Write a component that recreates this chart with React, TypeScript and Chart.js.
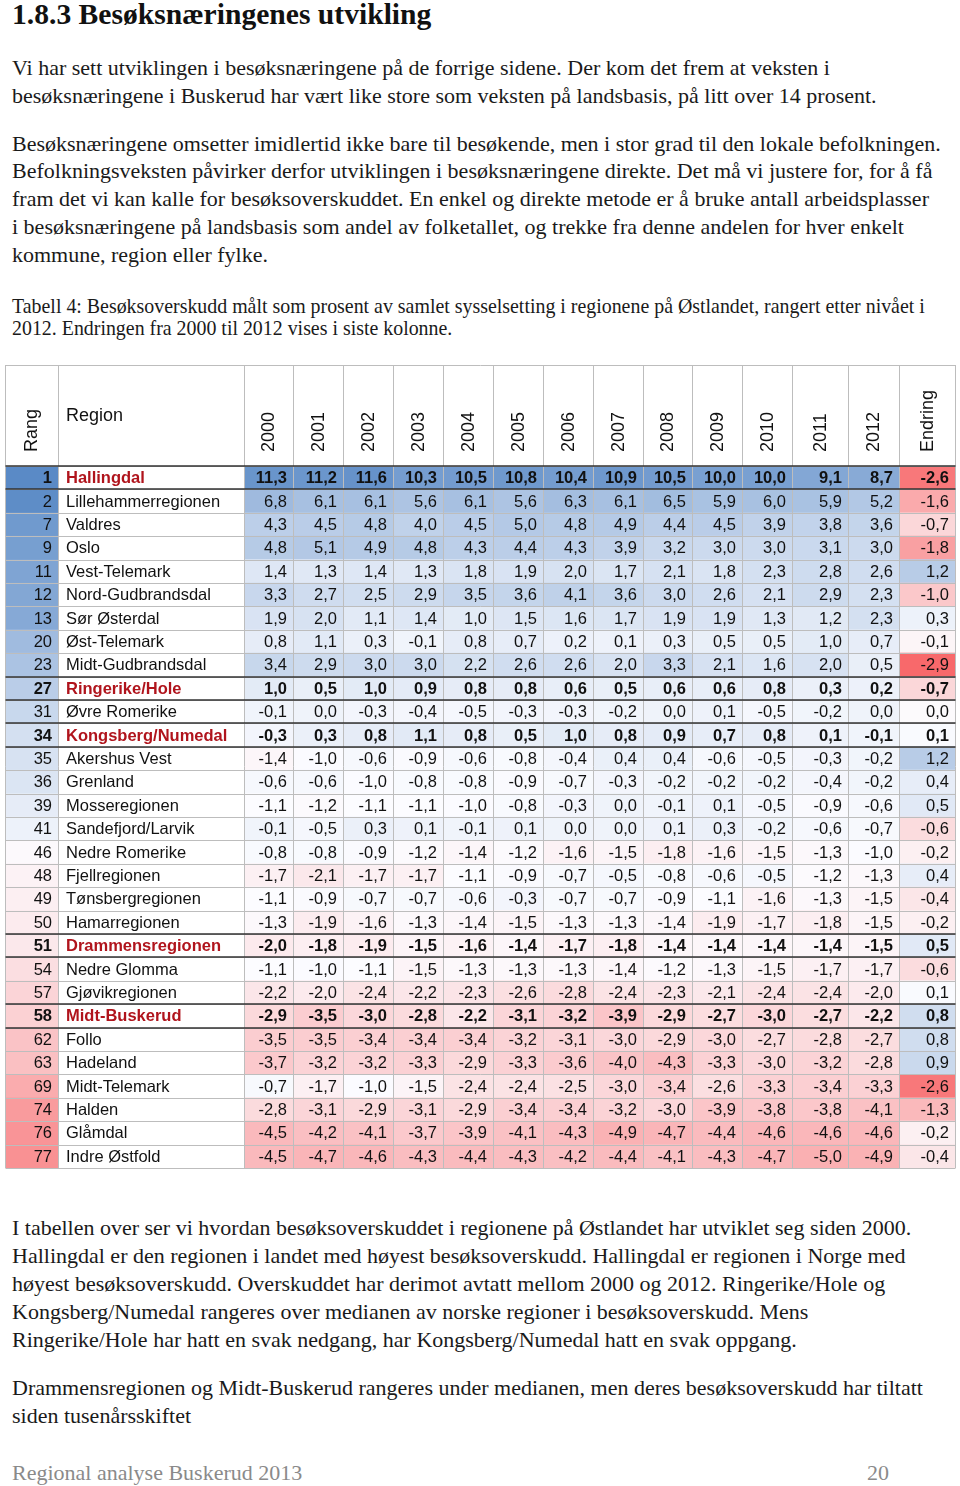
import React, { useEffect, useRef } from "react";
import { Chart, registerables } from "chart.js";

Chart.register(...registerables);

// ---------- data ----------
const ranks = [1, 2, 7, 9, 11, 12, 13, 20, 23, 27, 31, 34, 35, 36, 39, 41, 46, 48, 49, 50, 51, 54, 57, 58, 62, 63, 69, 74, 76, 77];
const regions = [
  "Hallingdal", "Lillehammerregionen", "Valdres", "Oslo", "Vest-Telemark", "Nord-Gudbrandsdal",
  "Sør Østerdal", "Øst-Telemark", "Midt-Gudbrandsdal", "Ringerike/Hole", "Øvre Romerike",
  "Kongsberg/Numedal", "Akershus Vest", "Grenland", "Mosseregionen", "Sandefjord/Larvik",
  "Nedre Romerike", "Fjellregionen", "Tønsbergregionen", "Hamarregionen", "Drammensregionen",
  "Nedre Glomma", "Gjøvikregionen", "Midt-Buskerud", "Follo", "Hadeland", "Midt-Telemark",
  "Halden", "Glåmdal", "Indre Østfold",
];
const highlighted = ["Hallingdal", "Ringerike/Hole", "Kongsberg/Numedal", "Drammensregionen", "Midt-Buskerud"];
const years = ["2000", "2001", "2002", "2003", "2004", "2005", "2006", "2007", "2008", "2009", "2010", "2011", "2012"];

const y2000 = [11.3, 6.8, 4.3, 4.8, 1.4, 3.3, 1.9, 0.8, 3.4, 1.0, -0.1, -0.3, -1.4, -0.6, -1.1, -0.1, -0.8, -1.7, -1.1, -1.3, -2.0, -1.1, -2.2, -2.9, -3.5, -3.7, -0.7, -2.8, -4.5, -4.5];
const y2001 = [11.2, 6.1, 4.5, 5.1, 1.3, 2.7, 2.0, 1.1, 2.9, 0.5, 0.0, 0.3, -1.0, -0.6, -1.2, -0.5, -0.8, -2.1, -0.9, -1.9, -1.8, -1.0, -2.0, -3.5, -3.5, -3.2, -1.7, -3.1, -4.2, -4.7];
const y2002 = [11.6, 6.1, 4.8, 4.9, 1.4, 2.5, 1.1, 0.3, 3.0, 1.0, -0.3, 0.8, -0.6, -1.0, -1.1, 0.3, -0.9, -1.7, -0.7, -1.6, -1.9, -1.1, -2.4, -3.0, -3.4, -3.2, -1.0, -2.9, -4.1, -4.6];
const y2003 = [10.3, 5.6, 4.0, 4.8, 1.3, 2.9, 1.4, -0.1, 3.0, 0.9, -0.4, 1.1, -0.9, -0.8, -1.1, 0.1, -1.2, -1.7, -0.7, -1.3, -1.5, -1.5, -2.2, -2.8, -3.4, -3.3, -1.5, -3.1, -3.7, -4.3];
const y2004 = [10.5, 6.1, 4.5, 4.3, 1.8, 3.5, 1.0, 0.8, 2.2, 0.8, -0.5, 0.8, -0.6, -0.8, -1.0, -0.1, -1.4, -1.1, -0.6, -1.4, -1.6, -1.3, -2.3, -2.2, -3.4, -2.9, -2.4, -2.9, -3.9, -4.4];
const y2005 = [10.8, 5.6, 5.0, 4.4, 1.9, 3.6, 1.5, 0.7, 2.6, 0.8, -0.3, 0.5, -0.8, -0.9, -0.8, 0.1, -1.2, -0.9, -0.3, -1.5, -1.4, -1.3, -2.6, -3.1, -3.2, -3.3, -2.4, -3.4, -4.1, -4.3];
const y2006 = [10.4, 6.3, 4.8, 4.3, 2.0, 4.1, 1.6, 0.2, 2.6, 0.6, -0.3, 1.0, -0.4, -0.7, -0.3, 0.0, -1.6, -0.7, -0.7, -1.3, -1.7, -1.3, -2.8, -3.2, -3.1, -3.6, -2.5, -3.4, -4.3, -4.2];
const y2007 = [10.9, 6.1, 4.9, 3.9, 1.7, 3.6, 1.7, 0.1, 2.0, 0.5, -0.2, 0.8, 0.4, -0.3, 0.0, 0.0, -1.5, -0.5, -0.7, -1.3, -1.8, -1.4, -2.4, -3.9, -3.0, -4.0, -3.0, -3.2, -4.9, -4.4];
const y2008 = [10.5, 6.5, 4.4, 3.2, 2.1, 3.0, 1.9, 0.3, 3.3, 0.6, 0.0, 0.9, 0.4, -0.2, -0.1, 0.1, -1.8, -0.8, -0.9, -1.4, -1.4, -1.2, -2.3, -2.9, -2.9, -4.3, -3.4, -3.0, -4.7, -4.1];
const y2009 = [10.0, 5.9, 4.5, 3.0, 1.8, 2.6, 1.9, 0.5, 2.1, 0.6, 0.1, 0.7, -0.6, -0.2, 0.1, 0.3, -1.6, -0.6, -1.1, -1.9, -1.4, -1.3, -2.1, -2.7, -3.0, -3.3, -2.6, -3.9, -4.4, -4.3];
const y2010 = [10.0, 6.0, 3.9, 3.0, 2.3, 2.1, 1.3, 0.5, 1.6, 0.8, -0.5, 0.8, -0.5, -0.2, -0.5, -0.2, -1.5, -0.5, -1.6, -1.7, -1.4, -1.5, -2.4, -3.0, -2.7, -3.0, -3.3, -3.8, -4.6, -4.7];
const y2011 = [9.1, 5.9, 3.8, 3.1, 2.8, 2.9, 1.2, 1.0, 2.0, 0.3, -0.2, 0.1, -0.3, -0.4, -0.9, -0.6, -1.3, -1.2, -1.3, -1.8, -1.4, -1.7, -2.4, -2.7, -2.8, -3.2, -3.4, -3.8, -4.6, -5.0];
const y2012 = [8.7, 5.2, 3.6, 3.0, 2.6, 2.3, 2.3, 0.7, 0.5, 0.2, 0.0, -0.1, -0.2, -0.2, -0.6, -0.7, -1.0, -1.3, -1.5, -1.5, -1.5, -1.7, -2.0, -2.2, -2.7, -2.8, -3.3, -4.1, -4.6, -4.9];
const endring = [-2.6, -1.6, -0.7, -1.8, 1.2, -1.0, 0.3, -0.1, -2.9, -0.7, 0.0, 0.1, 1.2, 0.4, 0.5, -0.6, -0.2, 0.4, -0.4, -0.2, 0.5, -0.6, 0.1, 0.8, 0.8, 0.9, -2.6, -1.3, -0.2, -0.4];

const yearSeries = [y2000, y2001, y2002, y2003, y2004, y2005, y2006, y2007, y2008, y2009, y2010, y2011, y2012];

// ---------- layout / style ----------
const colWidths = [53, 186, 49, 50, 50, 50, 50, 50, 50, 50, 49, 50, 50, 56, 51, 56];
const colHeaders = ["Rang", "Region", ...years, "Endring"];
const edges = colWidths.reduce<number[]>((acc, w) => { acc.push(acc[acc.length - 1] + w); return acc; }, [0]);
const TOTAL = edges[edges.length - 1];

const WHITE = [252, 252, 255];
const RED = [248, 105, 107];
const BLUE = [90, 138, 198];
function scale3(v: number, min: number, mid: number, max: number) {
  let t: number, c: number[];
  if (v <= mid) { t = Math.min(1, (mid - v) / (mid - min)); c = RED; }
  else { t = Math.min(1, (v - mid) / (max - mid)); c = BLUE; }
  const m = WHITE.map((w, i) => Math.round(w + (c[i] - w) * t));
  return `rgb(${m[0]},${m[1]},${m[2]})`;
}
const fmt = (v: number) => v.toFixed(1).replace(".", ",");

function cellColor(col: number, row: number) {
  if (col === 0) return scale3(-ranks[row], -89, -45, -1);
  if (col === 1) return "#ffffff";
  if (col === colHeaders.length - 1) return scale3(endring[row], -2.9, 0.05, 2.8);
  return scale3(yearSeries[col - 2][row], -8.6, -1.1, 12.6);
}
function cellText(col: number, row: number) {
  if (col === 0) return String(ranks[row]);
  if (col === 1) return regions[row];
  if (col === colHeaders.length - 1) return fmt(endring[row]);
  return fmt(yearSeries[col - 2][row]);
}

const TABLE_FONT = "'Liberation Sans', Arial, sans-serif";

const tablePlugin = {
  id: "tableText",
  afterDatasetsDraw(chart: any) {
    const { ctx, chartArea, scales } = chart;
    const xs = scales.x;
    const ys = scales.y;
    const n = regions.length;
    const rowH = (chartArea.bottom - chartArea.top) / n;
    const headerTop = 5;
    const px = (v: number) => Math.round(xs.getPixelForValue(v)) + 0.5;
    ctx.save();

    // grid lines
    ctx.strokeStyle = "#bdbdbd";
    ctx.lineWidth = 1;
    ctx.beginPath();
    for (let r = 0; r <= n; r++) {
      const y = Math.round(ys.getPixelForValue(r) - rowH / 2) + 0.5;
      ctx.moveTo(px(0), y);
      ctx.lineTo(px(TOTAL), y);
    }
    ctx.moveTo(px(0), headerTop + 0.5);
    ctx.lineTo(px(TOTAL), headerTop + 0.5);
    edges.forEach((e) => {
      ctx.moveTo(px(e), headerTop);
      ctx.lineTo(px(e), chartArea.bottom);
    });
    ctx.stroke();

    // thick separators (header bottom + highlighted rows)
    ctx.strokeStyle = "#333333";
    ctx.lineWidth = 1.5;
    ctx.beginPath();
    const hline = (r: number) => {
      const y = Math.round(ys.getPixelForValue(r) - rowH / 2);
      ctx.moveTo(px(0), y);
      ctx.lineTo(px(TOTAL), y);
    };
    hline(0);
    regions.forEach((name, r) => {
      if (highlighted.includes(name)) { hline(r); hline(r + 1); }
    });
    ctx.stroke();

    // header texts
    ctx.fillStyle = "#111111";
    ctx.font = `18px ${TABLE_FONT}`;
    const headerBottom = 92;
    colHeaders.forEach((h, c) => {
      const cx = (xs.getPixelForValue(edges[c]) + xs.getPixelForValue(edges[c + 1])) / 2;
      if (c === 1) {
        ctx.textAlign = "left";
        ctx.textBaseline = "middle";
        ctx.fillText(h, xs.getPixelForValue(edges[c]) + 8, 56);
        return;
      }
      ctx.save();
      ctx.translate(cx, headerBottom);
      ctx.rotate(-Math.PI / 2);
      ctx.textAlign = "left";
      ctx.textBaseline = "middle";
      ctx.fillText(h, 0, 1);
      ctx.restore();
    });

    // cell texts
    ctx.textBaseline = "middle";
    for (let r = 0; r < n; r++) {
      const bold = highlighted.includes(regions[r]);
      ctx.font = `${bold ? "bold " : ""}16.5px ${TABLE_FONT}`;
      for (let c = 0; c < colHeaders.length; c++) {
        const el = chart.getDatasetMeta(c).data[r];
        const left = Math.min(el.x, el.base);
        const right = Math.max(el.x, el.base);
        const t = cellText(c, r);
        if (c === 1) {
          ctx.textAlign = "left";
          ctx.fillStyle = bold ? "#b0141c" : "#111111";
          ctx.fillText(t, left + 8, el.y + 1);
        } else {
          ctx.textAlign = "right";
          ctx.fillStyle = "#111111";
          ctx.fillText(t, right - 6, el.y + 1);
        }
      }
    }
    ctx.restore();
  },
};

function TableChart() {
  const ref = useRef<HTMLCanvasElement>(null);
  useEffect(() => {
    if (!ref.current) return;
    const chart = new Chart(ref.current, {
      type: "bar",
      data: {
        labels: regions,
        datasets: colHeaders.map((h, c) => ({
          label: h,
          data: regions.map(() => [edges[c], edges[c + 1]] as [number, number]),
          backgroundColor: regions.map((_, r) => cellColor(c, r)),
          borderWidth: 0,
          barPercentage: 1,
          categoryPercentage: 1,
          grouped: false,
        })),
      },
      options: {
        indexAxis: "y",
        animation: false,
        responsive: false,
        maintainAspectRatio: false,
        layout: { padding: { left: 5, right: 5, top: 106, bottom: 7 } },
        scales: {
          x: { type: "linear", min: 0, max: TOTAL, display: false },
          y: { type: "category", display: false, offset: true },
        },
        plugins: { legend: { display: false }, tooltip: { enabled: false } },
      },
      plugins: [tablePlugin],
    } as any);
    return () => chart.destroy();
  }, []);
  return <canvas ref={ref} width={960} height={815} style={{ position: "absolute", left: 0, top: 360, width: 960, height: 815 }} />;
}

const SERIF = "'Liberation Serif', 'Times New Roman', serif";

function Line({ y, size = 22, children, bold = false, color = "#1a1a1a", x = 12 }: any) {
  return (
    <div
      style={{
        position: "absolute",
        left: x,
        top: y - 15,
        height: 28,
        lineHeight: "28px",
        fontSize: size,
        fontFamily: SERIF,
        fontWeight: bold ? "bold" : "normal",
        color,
        whiteSpace: "nowrap",
      }}
    >
      {children}
    </div>
  );
}

export default function App() {
  return (
    <div style={{ position: "absolute", left: 0, top: 0, width: 960, height: 1486, background: "#fff", overflow: "hidden" }}>
      <Line y={15} size={29.6} bold color="#111">1.8.3 Besøksnæringenes utvikling</Line>
      <Line y={69}>Vi har sett utviklingen i besøksnæringene på de forrige sidene. Der kom det frem at veksten i</Line>
      <Line y={97}>besøksnæringene i Buskerud har vært like store som veksten på landsbasis, på litt over 14 prosent.</Line>
      <Line y={145}>Besøksnæringene omsetter imidlertid ikke bare til besøkende, men i stor grad til den lokale befolkningen.</Line>
      <Line y={172}>Befolkningsveksten påvirker derfor utviklingen i besøksnæringene direkte. Det må vi justere for, for å få</Line>
      <Line y={200}>fram det vi kan kalle for besøksoverskuddet. En enkel og direkte metode er å bruke antall arbeidsplasser</Line>
      <Line y={228}>i besøksnæringene på landsbasis som andel av folketallet, og trekke fra denne andelen for hver enkelt</Line>
      <Line y={256}>kommune, region eller fylke.</Line>
      <Line y={307} size={19.9}>Tabell 4: Besøksoverskudd målt som prosent av samlet sysselsetting i regionene på Østlandet, rangert etter nivået i</Line>
      <Line y={329} size={19.9}>2012. Endringen fra 2000 til 2012 vises i siste kolonne.</Line>
      <TableChart />
      <Line y={1229}>I tabellen over ser vi hvordan besøksoverskuddet i regionene på Østlandet har utviklet seg siden 2000.</Line>
      <Line y={1257}>Hallingdal er den regionen i landet med høyest besøksoverskudd. Hallingdal er regionen i Norge med</Line>
      <Line y={1285}>høyest besøksoverskudd. Overskuddet har derimot avtatt mellom 2000 og 2012. Ringerike/Hole og</Line>
      <Line y={1313}>Kongsberg/Numedal rangeres over medianen av norske regioner i besøksoverskudd. Mens</Line>
      <Line y={1341}>Ringerike/Hole har hatt en svak nedgang, har Kongsberg/Numedal hatt en svak oppgang.</Line>
      <Line y={1389}>Drammensregionen og Midt-Buskerud rangeres under medianen, men deres besøksoverskudd har tiltatt</Line>
      <Line y={1417}>siden tusenårsskiftet</Line>
      <Line y={1474} size={22} color="#8a8a8a">Regional analyse Buskerud 2013</Line>
      <Line y={1474} size={22} color="#8a8a8a" x={867}>20</Line>
    </div>
  );
}
